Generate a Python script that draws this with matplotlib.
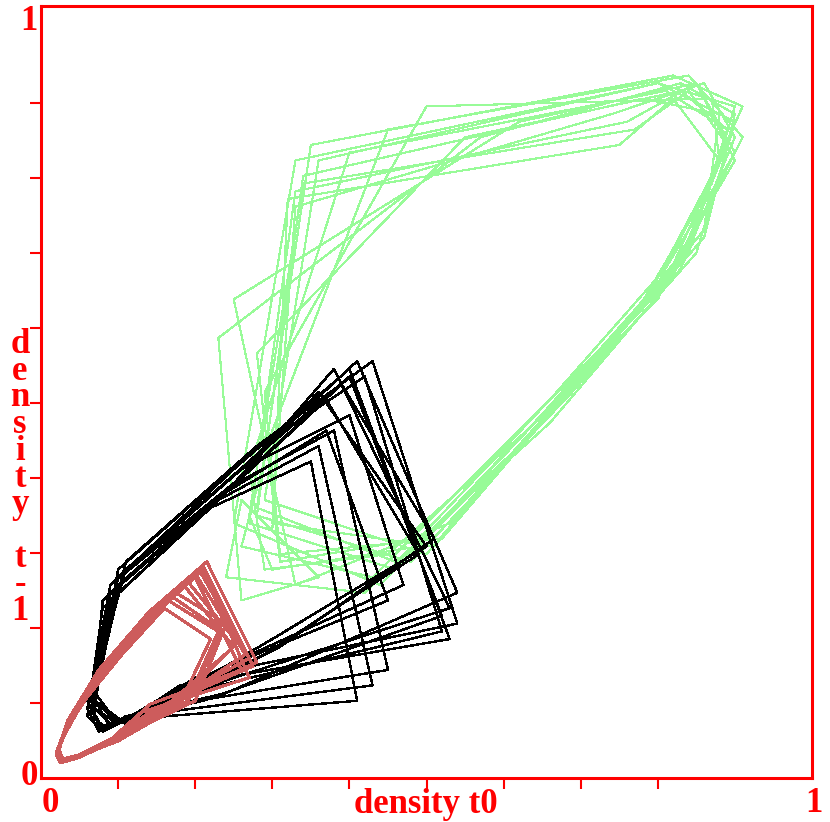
import numpy as np
import matplotlib
matplotlib.use("Agg")
import matplotlib.pyplot as plt

# density series (plotted as t0 vs t-1)
green_density = [
    0.28, 0.47, 0.65, 0.82, 0.89, 0.84, 0.77, 0.34,
    0.27, 0.30, 0.49, 0.68, 0.85, 0.90, 0.80, 0.33,
    0.25, 0.44, 0.62, 0.80, 0.88, 0.87, 0.50, 0.29,
    0.31, 0.52, 0.70, 0.86, 0.90, 0.83, 0.57, 0.23,
    0.26, 0.36, 0.26, 0.24, 0.42, 0.61, 0.78, 0.87, 0.91, 0.82, 0.35,
    0.28, 0.46, 0.66, 0.83, 0.90, 0.86, 0.74, 0.33,
    0.30, 0.51, 0.69, 0.84, 0.89, 0.81, 0.40, 0.27,
    0.29, 0.45, 0.63, 0.80, 0.90, 0.85, 0.62, 0.25,
    0.33, 0.53, 0.71, 0.86, 0.88, 0.78, 0.34,
    0.28, 0.48, 0.67, 0.83, 0.91, 0.84, 0.45, 0.30,
    0.26, 0.43, 0.60, 0.77, 0.87, 0.90, 0.80, 0.36,
    0.29, 0.50, 0.68, 0.84, 0.89, 0.83, 0.55, 0.28,
    0.31, 0.49, 0.66, 0.81, 0.90, 0.85, 0.76, 0.33,
    0.27, 0.46, 0.64, 0.80, 0.88, 0.82, 0.75, 0.32, 0.30,
]

black_density = [
    0.065, 0.08, 0.12, 0.18, 0.53, 0.40, 0.25, 0.09,
    0.07, 0.10, 0.17, 0.31, 0.51, 0.39, 0.26, 0.10,
    0.065, 0.075, 0.10, 0.41, 0.35, 0.22, 0.08,
    0.06, 0.08, 0.11, 0.24, 0.54, 0.41, 0.27, 0.11,
    0.065, 0.09, 0.14, 0.23, 0.45, 0.37, 0.24, 0.09,
    0.07, 0.09, 0.14, 0.45, 0.38, 0.25, 0.09,
    0.06, 0.075, 0.11, 0.19, 0.52, 0.42, 0.27, 0.10,
    0.07, 0.11, 0.18, 0.30, 0.50, 0.36, 0.23, 0.09,
    0.065, 0.08, 0.12, 0.22, 0.53, 0.38, 0.25, 0.10,
    0.07, 0.10, 0.15, 0.25, 0.47, 0.40, 0.26, 0.10,
    0.06, 0.08, 0.12, 0.43, 0.36, 0.23, 0.08,
    0.065, 0.085, 0.13, 0.20, 0.54, 0.43, 0.28, 0.11,
    0.07, 0.10, 0.16, 0.29, 0.49, 0.37, 0.24, 0.09,
    0.06, 0.075, 0.10, 0.21, 0.52, 0.40, 0.26, 0.10, 0.07,
]

red_density = [
    0.025, 0.030, 0.050, 0.090, 0.150, 0.280, 0.215, 0.140, 0.075, 0.035,
    0.022, 0.028, 0.048, 0.100, 0.190, 0.230, 0.165, 0.100, 0.055, 0.030,
    0.020, 0.027, 0.050, 0.095, 0.140, 0.260, 0.200, 0.130, 0.070, 0.035,
    0.022, 0.030, 0.055, 0.100, 0.170, 0.250, 0.185, 0.120, 0.065, 0.032,
    0.021, 0.026, 0.045, 0.085, 0.130, 0.270, 0.210, 0.145, 0.080, 0.038,
    0.023, 0.029, 0.050, 0.095, 0.180, 0.220, 0.160, 0.105, 0.060, 0.030,
    0.020, 0.025, 0.045, 0.090, 0.160, 0.265, 0.200, 0.135, 0.072, 0.034,
    0.022, 0.030, 0.052, 0.100, 0.200, 0.240, 0.175, 0.110, 0.060, 0.031,
    0.021, 0.027, 0.047, 0.088, 0.145, 0.275, 0.210, 0.140, 0.076, 0.036,
    0.022, 0.028, 0.050, 0.097, 0.175, 0.255, 0.190, 0.125, 0.068, 0.033,
    0.020, 0.026, 0.046, 0.092, 0.155, 0.270, 0.205, 0.138, 0.074, 0.035,
    0.021, 0.029, 0.050, 0.098, 0.190, 0.235, 0.170, 0.110, 0.060, 0.030, 0.022,
]

x_label = "density t0"
y_label = "density t-1"

W, H = 830, 822
fig = plt.figure(figsize=(W / 100, H / 100), dpi=100)
# axes box in pixels: left 41, right 812, top 6, bottom 778
ax = fig.add_axes([41 / W, 1 - 778 / H, (812 - 41) / W, (778 - 6) / H])

series = [
    (green_density, "#98fb98", 0.8),
    (black_density, "black", 1.0),
    (red_density, "#cd5c5c", 1.5),
]
for dens, col, lw in series:
    d = np.array(dens)
    ax.plot(d[1:], d[:-1], color=col, lw=lw, antialiased=False)

ax.set_xlim(0, 1)
ax.set_ylim(0, 1)

red = "#ff0000"
for s in ax.spines.values():
    s.set_color(red)
    s.set_linewidth(2.2)

ax.set_xticks(np.arange(1, 9) / 10)
ax.set_yticks(np.arange(1, 10) * 75 / 772)
ax.tick_params(colors=red, length=8, width=1.5, direction="out",
               labelbottom=False, labelleft=False)

font = dict(family="Liberation Serif", weight="bold", color=red, size=25)

def px_text(x, y, s, ha="center", va="center"):
    fig.text(x / W, 1 - y / H, s, ha=ha, va=va, **font)

px_text(29, 22, "1")
px_text(29, 776, "0")
px_text(50, 803, "0")
px_text(814, 803, "1")
px_text(426, 813, x_label, va="baseline")

# stacked vertical label, one letter per line
for i, c in enumerate(y_label):
    if c != " ":
        px_text(20, 353 + 26.7 * i, c, va="baseline")

fig.savefig("out.png", dpi=100, facecolor="white")
